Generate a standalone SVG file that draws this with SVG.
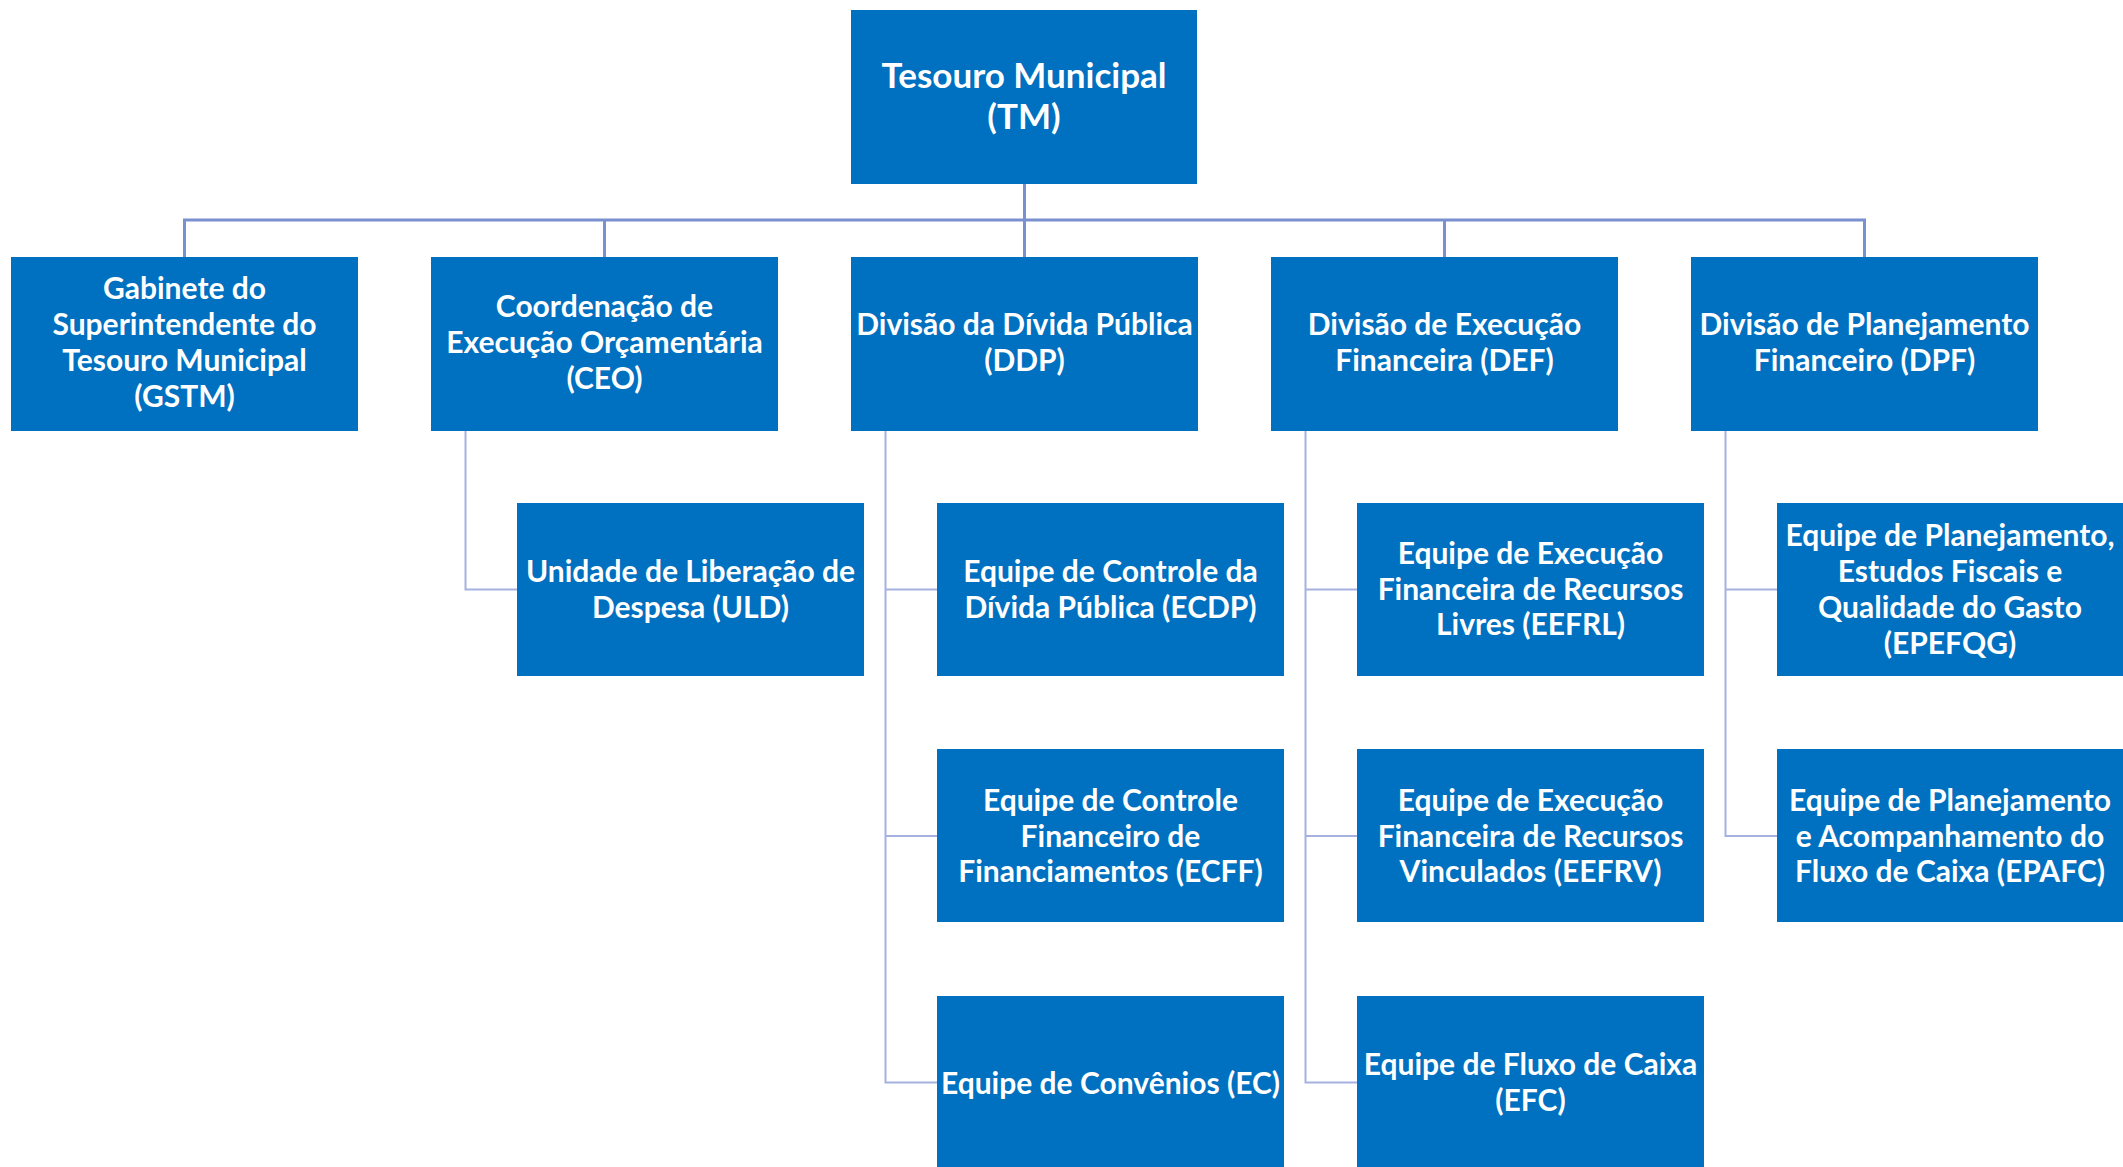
<svg xmlns="http://www.w3.org/2000/svg" width="2123" height="1167" viewBox="0 0 2123 1167">
<style>
.box{fill:#0070C0}
.t{font-family:Lato,"Open Sans","Liberation Sans",sans-serif;font-weight:bold;font-size:30px;fill:#ffffff;text-anchor:middle}
.tt{font-size:35px}
.c1{fill:none;stroke:#7B90D0;stroke-width:3}
.c2{fill:none;stroke:#A5B2E0;stroke-width:2}
</style>
<rect width="2123" height="1167" fill="#ffffff"/>
<g id="connectors">
<path class="c1" d="M184.5 257V220H1864.5V257M604.5 220V257M1024.5 184V257M1444.5 220V257"/>
<path class="c2" d="M465.5 431V589.5H517"/>
<path class="c2" d="M885.5 431V1082.5H937M885.5 589.5H937M885.5 836H937"/>
<path class="c2" d="M1305.5 431V1082.5H1357M1305.5 589.5H1357M1305.5 836H1357"/>
<path class="c2" d="M1725.5 431V836H1777M1725.5 589.5H1777"/>
</g>
<g id="TM"><rect class="box" x="851" y="10" width="346" height="174"/><text class="t tt" x="1024" y="88">Tesouro Municipal</text><text class="t tt" x="1024" y="129">(TM)</text></g>
<g id="GSTM"><rect class="box" x="11" y="257" width="347" height="174"/><text class="t"><tspan x="184.5" y="299">Gabinete do</tspan><tspan x="184.5" y="335">Superintendente do</tspan><tspan x="184.5" y="371">Tesouro Municipal</tspan><tspan x="184.5" y="407">(GSTM)</tspan></text></g>
<g id="CEO"><rect class="box" x="431" y="257" width="347" height="174"/><text class="t"><tspan x="604.5" y="317">Coordenação de</tspan><tspan x="604.5" y="353">Execução Orçamentária</tspan><tspan x="604.5" y="389">(CEO)</tspan></text></g>
<g id="DDP"><rect class="box" x="851" y="257" width="347" height="174"/><text class="t"><tspan x="1024.5" y="335">Divisão da Dívida Pública</tspan><tspan x="1024.5" y="371">(DDP)</tspan></text></g>
<g id="DEF"><rect class="box" x="1271" y="257" width="347" height="174"/><text class="t"><tspan x="1444.5" y="335">Divisão de Execução</tspan><tspan x="1444.5" y="371">Financeira (DEF)</tspan></text></g>
<g id="DPF"><rect class="box" x="1691" y="257" width="347" height="174"/><text class="t"><tspan x="1864.5" y="335">Divisão de Planejamento</tspan><tspan x="1864.5" y="371">Financeiro (DPF)</tspan></text></g>
<g id="ULD"><rect class="box" x="517" y="503" width="347" height="173"/><text class="t"><tspan x="690.5" y="582">Unidade de Liberação de</tspan><tspan x="690.5" y="618">Despesa (ULD)</tspan></text></g>
<g id="ECDP"><rect class="box" x="937" y="503" width="347" height="173"/><text class="t"><tspan x="1110.5" y="582">Equipe de Controle da</tspan><tspan x="1110.5" y="618">Dívida Pública (ECDP)</tspan></text></g>
<g id="ECFF"><rect class="box" x="937" y="749" width="347" height="173"/><text class="t"><tspan x="1110.5" y="811">Equipe de Controle</tspan><tspan x="1110.5" y="846.5">Financeiro de</tspan><tspan x="1110.5" y="882">Financiamentos (ECFF)</tspan></text></g>
<g id="EC"><rect class="box" x="937" y="996" width="347" height="173"/><text class="t" x="1110.5" y="1093.5">Equipe de Convênios (EC)</text></g>
<g id="EEFRL"><rect class="box" x="1357" y="503" width="347" height="173"/><text class="t"><tspan x="1530.5" y="564">Equipe de Execução</tspan><tspan x="1530.5" y="599.5">Financeira de Recursos</tspan><tspan x="1530.5" y="635">Livres (EEFRL)</tspan></text></g>
<g id="EEFRV"><rect class="box" x="1357" y="749" width="347" height="173"/><text class="t"><tspan x="1530.5" y="811">Equipe de Execução</tspan><tspan x="1530.5" y="846.5">Financeira de Recursos</tspan><tspan x="1530.5" y="882">Vinculados (EEFRV)</tspan></text></g>
<g id="EFC"><rect class="box" x="1357" y="996" width="347" height="173"/><text class="t"><tspan x="1530.5" y="1075">Equipe de Fluxo de Caixa</tspan><tspan x="1530.5" y="1111">(EFC)</tspan></text></g>
<g id="EPEFQG"><rect class="box" x="1777" y="503" width="347" height="173"/><text class="t"><tspan x="1950" y="546">Equipe de Planejamento,</tspan><tspan x="1950" y="582">Estudos Fiscais e</tspan><tspan x="1950" y="617.5">Qualidade do Gasto</tspan><tspan x="1950" y="653.5">(EPEFQG)</tspan></text></g>
<g id="EPAFC"><rect class="box" x="1777" y="749" width="347" height="173"/><text class="t"><tspan x="1950" y="811">Equipe de Planejamento</tspan><tspan x="1950" y="846.5">e Acompanhamento do</tspan><tspan x="1950" y="882">Fluxo de Caixa (EPAFC)</tspan></text></g>
</svg>
